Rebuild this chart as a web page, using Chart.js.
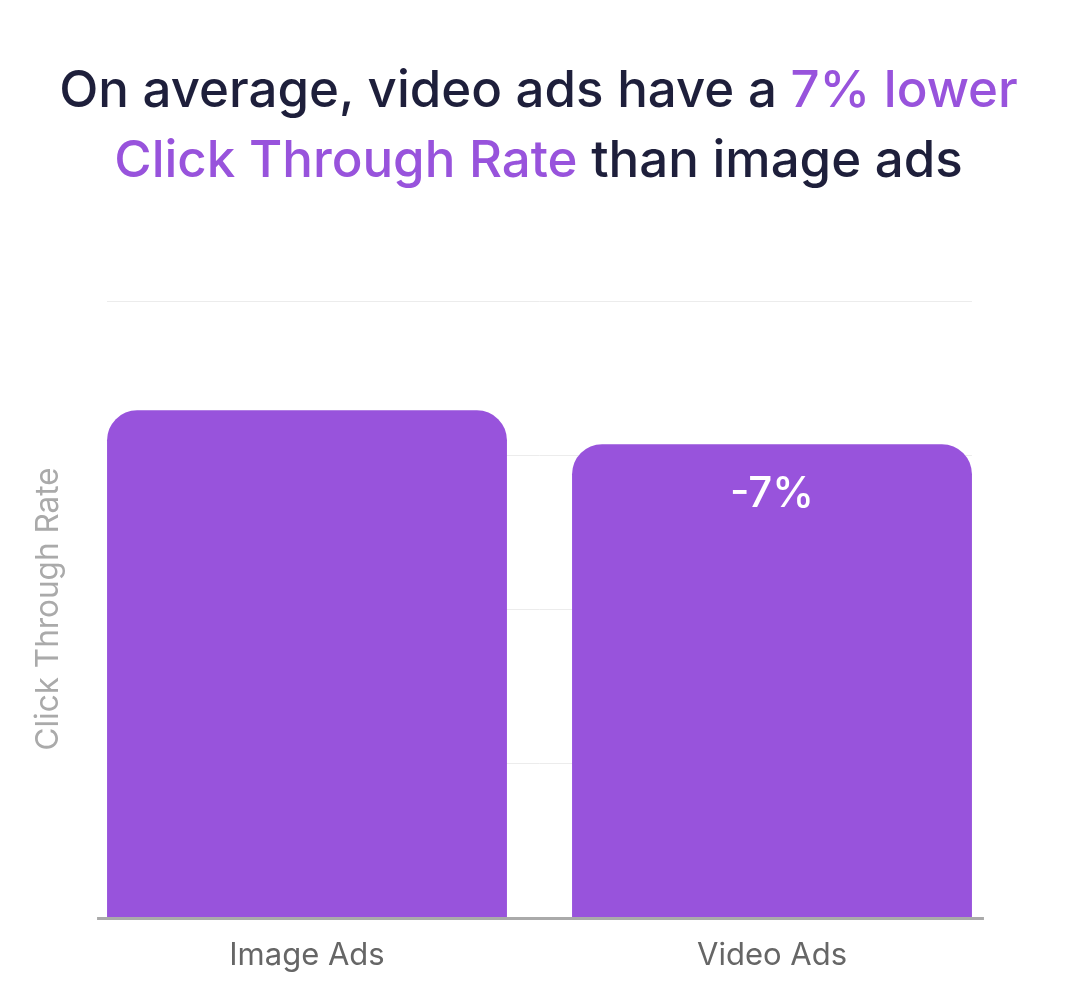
<!DOCTYPE html>
<html>
<head>
<meta charset="utf-8">
<script src="https://cdn.jsdelivr.net/npm/chart.js@4.4.0/dist/chart.umd.min.js"></script>
<style>
    html, body { margin: 0; padding: 0; background: #fff; }
    #wrap { position: relative; width: 1077px; height: 1000px; }
    #title {
        position: absolute; left: 0; top: 54px; width: 1077px;
        text-align: center; font-family: Inter, sans-serif; font-size: 51px;
        line-height: 70px; color: #1e1f3b; font-weight: 500;
    }
    #title .hl { color: #9853dc; }
    canvas { position: absolute; left: 0; top: 0; }
</style>
</head>
<body>
<div id="wrap">
    <canvas id="ctrChart" width="1077" height="1000"></canvas>
    <div id="title">On average, video ads have a <span class="hl">7% lower</span><br><span class="hl">Click Through Rate</span> than image ads</div>
</div>
<script>
const categories = ['Image Ads', 'Video Ads'];
const ctrValues = [3.29, 3.07];
const barLabels = ['', '-7%'];
const yTicks = [0, 1, 2, 3, 4];

const purple = '#9853dc';

// gridlines limited to the span of the bars, plus the thick baseline
const gridPlugin = {
    id: 'gridSpan',
    beforeDatasetsDraw(chart) {
        const { ctx, scales } = chart;
        const bars = chart.getDatasetMeta(0).data;
        const left = bars[0].x - bars[0].width / 2;
        const right = bars[bars.length - 1].x + bars[bars.length - 1].width / 2;
        ctx.save();
        ctx.strokeStyle = '#ececec';
        ctx.lineWidth = 1;
        yTicks.forEach(v => {
            if (v === 0) return;
            const y = Math.round(scales.y.getPixelForValue(v)) + 0.5;
            ctx.beginPath();
            ctx.moveTo(left, y);
            ctx.lineTo(right, y);
            ctx.stroke();
        });
        ctx.restore();
    },
    afterDatasetsDraw(chart) {
        const { ctx, scales } = chart;
        const bars = chart.getDatasetMeta(0).data;
        const left = bars[0].x - bars[0].width / 2;
        const right = bars[bars.length - 1].x + bars[bars.length - 1].width / 2;
        ctx.save();
        ctx.strokeStyle = '#aaaaaa';
        ctx.lineWidth = 3;
        const y = scales.y.getPixelForValue(0) + 1.5;
        ctx.beginPath();
        ctx.moveTo(left - 10, y);
        ctx.lineTo(right + 12, y);
        ctx.stroke();

        // value labels inside bars
        ctx.fillStyle = '#ffffff';
        ctx.font = '500 42px Inter, sans-serif';
        ctx.textAlign = 'center';
        ctx.textBaseline = 'middle';
        bars.forEach((bar, i) => {
            if (!barLabels[i]) return;
            ctx.fillText(barLabels[i], bar.x, bar.y + 50);
        });
        ctx.restore();
    }
};

new Chart(document.getElementById('ctrChart'), {
    type: 'bar',
    data: {
        labels: categories,
        datasets: [{
            data: ctrValues,
            backgroundColor: purple,
            borderRadius: { topLeft: 30, topRight: 30 },
            borderSkipped: 'bottom',
            categoryPercentage: 1,
            barPercentage: 0.86
        }]
    },
    options: {
        responsive: false,
        animation: false,
        layout: { padding: { top: 301, right: 72.5, bottom: 0, left: 0 } },
        plugins: {
            legend: { display: false },
            tooltip: { enabled: false }
        },
        scales: {
            y: {
                min: 0,
                max: 4,
                ticks: { display: false, stepSize: 1 },
                grid: { display: false },
                border: { display: false },
                afterFit: s => { s.width = 74.5; },
                title: {
                    display: true,
                    text: 'Click Through Rate',
                    color: '#aaaaaa',
                    font: { family: 'Inter, sans-serif', size: 31.5 },
                    padding: { top: 30, bottom: 0 }
                }
            },
            x: {
                grid: { display: false },
                border: { display: false },
                afterFit: s => { s.height = 83; },
                ticks: {
                    color: '#666666',
                    padding: 12,
                    font: { family: 'Inter, sans-serif', size: 31 }
                }
            }
        }
    },
    plugins: [gridPlugin]
});
</script>
</body>
</html>
